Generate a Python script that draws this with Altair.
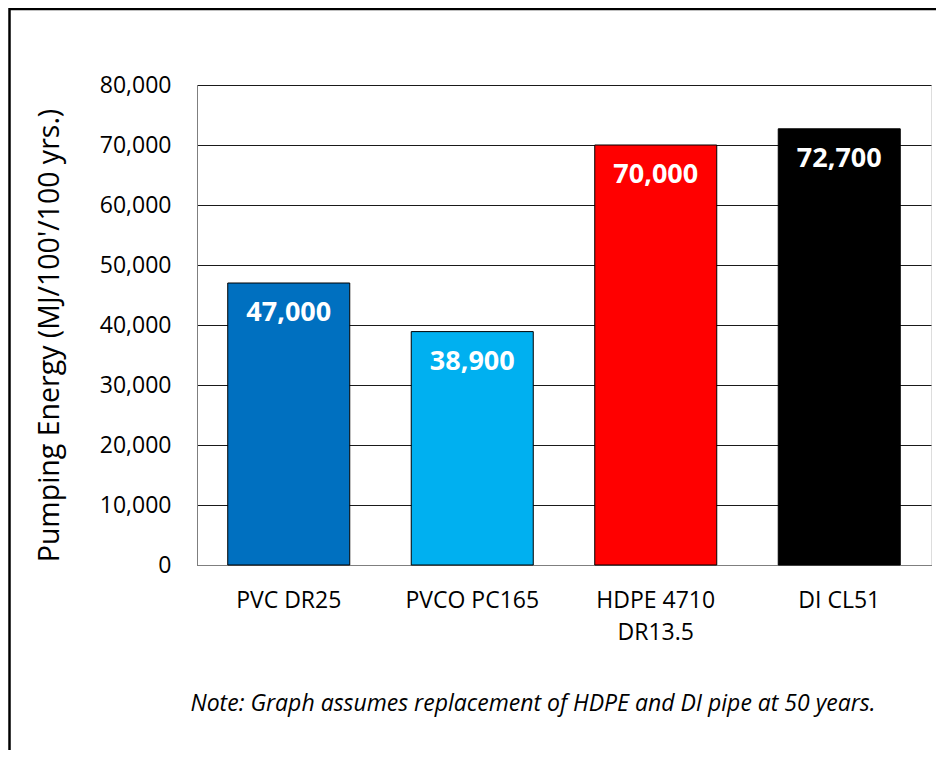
import altair as alt
import pandas as pd

categories = ["PVC DR25", "PVCO PC165", "HDPE 4710\nDR13.5", "DI CL51"]
values = [47000, 38900, 70000, 72700]
value_labels = ["47,000", "38,900", "70,000", "72,700"]
colors = ["#0070C0", "#00B0F0", "#FF0000", "#000000"]
y_ticks = [0, 10000, 20000, 30000, 40000, 50000, 60000, 70000, 80000]
y_title = "Pumping Energy (MJ/100'/100 yrs.)"
note = "Note: Graph assumes replacement of HDPE and DI pipe at 50 years."

FONT = "Open Sans"
W, H = 734, 480

df = pd.DataFrame({"pipe": categories, "energy": values, "label": value_labels})

x_enc = alt.X(
    "pipe:N",
    sort=categories,
    scale=alt.Scale(paddingInner=0.335, paddingOuter=0.1675),
    axis=alt.Axis(
        title=None,
        labelAngle=0,
        labelExpr="split(datum.label, '\\n')",
        labelFont=FONT,
        labelFontSize=23,
        labelColor="#000000",
        labelPadding=24,
        labelLineHeight=32,
        ticks=False,
        domainColor="#7f7f7f",
        domainWidth=1,
    ),
)
y_enc = alt.Y(
    "energy:Q",
    scale=alt.Scale(domain=[0, 80000], nice=False),
    axis=alt.Axis(
        values=y_ticks,
        format=",d",
        title=y_title,
        titleFont=FONT,
        titleFontSize=28.5,
        titleFontWeight="normal",
        titleColor="#000000",
        titleBaseline="alphabetic",
        titleX=-139,
        titleY=250,
        titleAngle=270,
        labelFont=FONT,
        labelFontSize=23,
        labelColor="#000000",
        labelPadding=26,
        ticks=False,
        domainColor="#7f7f7f",
        gridColor="#1a1a1a",
        gridWidth=1,
    ),
)

base = alt.Chart(df)
bars = base.mark_bar(stroke="#000000", strokeWidth=1).encode(
    x=x_enc,
    y=y_enc,
    color=alt.Color("pipe:N", scale=alt.Scale(domain=categories, range=colors), legend=None),
)
texts = base.mark_text(
    color="white", font=FONT, fontSize=27, fontWeight="bold", baseline="middle", dy=30
).encode(x=alt.X("pipe:N", sort=categories), y="energy:Q", text="label:N")

note_layer = alt.Chart(pd.DataFrame({"note": [note]})).mark_text(
    font=FONT, fontSize=23, fontStyle="italic", align="center", baseline="middle", color="#000000"
).encode(x=alt.value(336), y=alt.value(619), text="note:N")

frame = alt.Chart(pd.DataFrame({"k": [0]}))
top_line = frame.mark_rule(color="#000000", strokeWidth=2.5).encode(
    x=alt.value(-188), x2=alt.value(745), y=alt.value(-76)
)
left_line = frame.mark_rule(color="#000000", strokeWidth=2.5).encode(
    x=alt.value(-187.5), y=alt.value(-77), y2=alt.value(675)
)

chart = (
    alt.layer(bars, texts, note_layer, top_line, left_line)
    .properties(
        width=W,
        height=H,
        autosize=alt.AutoSizeParams(type="none"),
        padding={"left": 189, "top": 77, "right": 5, "bottom": 185},
    )
    .configure_view(stroke="#7f7f7f", strokeWidth=1)
    .configure(background="white")
)

chart.save("out.html", embed_options={"renderer": "svg", "actions": False})
